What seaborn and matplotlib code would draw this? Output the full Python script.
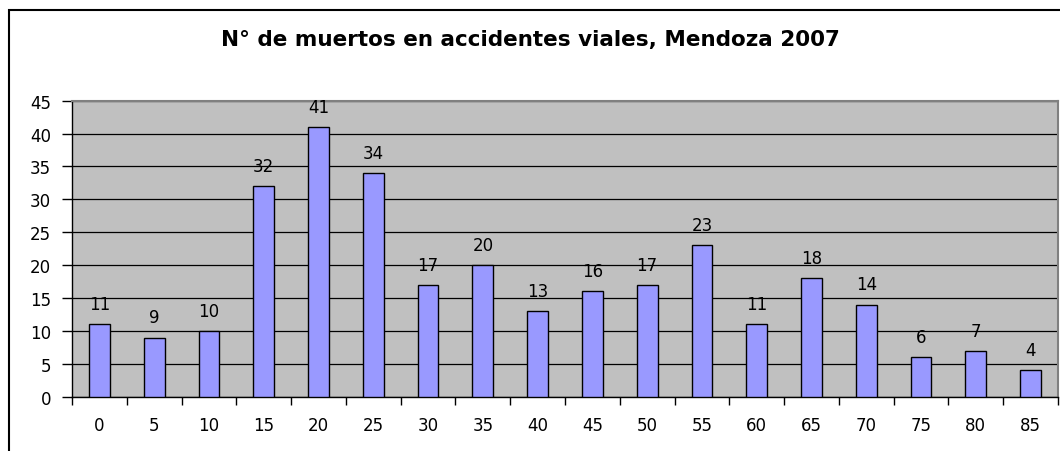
import numpy as np
import pandas as pd
import matplotlib
matplotlib.use('Agg')
import matplotlib.pyplot as plt
import seaborn as sns
from matplotlib.patches import Rectangle

# edad (grupos de 5 años) y n° de muertos
edades = ['0', '5', '10', '15', '20', '25', '30', '35', '40', '45',
          '50', '55', '60', '65', '70', '75', '80', '85']
muertos = [11, 9, 10, 32, 41, 34, 17, 20, 13, 16, 17, 23, 11, 18, 14, 6, 7, 4]
titulo = 'N° de muertos en accidentes viales, Mendoza 2007'

df = pd.DataFrame({'edad': edades, 'muertos': muertos})

sns.set_theme(style='white')
plt.rcParams['font.family'] = ['DejaVu Sans']
plt.rcParams['text.color'] = 'black'
plt.rcParams['xtick.color'] = 'black'
plt.rcParams['ytick.color'] = 'black'

fig = plt.figure(figsize=(10.6, 4.52), dpi=100)
ax = fig.add_axes([72 / 1060, 1 - 397.7 / 452, 986 / 1060, (397.7 - 101.7) / 452])
ax.set_facecolor('#C0C0C0')

sns.barplot(data=df, x='edad', y='muertos', color='#9999FF', edgecolor='black',
            linewidth=1, width=0.38, saturation=1, ax=ax, zorder=3)

# etiquetas de valor
for i, v in enumerate(muertos):
    ax.text(i, v + 2.3, str(v), ha='center', va='baseline', fontsize=12, color='black')

ax.set_xlim(-0.5, len(edades) - 0.5)
ax.set_ylim(0, 45)
ax.set_yticks(np.arange(0, 46, 5))
ax.yaxis.grid(True, color='black', linewidth=0.9, zorder=0)
ax.set_axisbelow(True)
ax.set_xlabel('')
ax.set_ylabel('')

ax.tick_params(axis='y', which='major', direction='out', length=7, width=1,
               color='black', left=True, labelsize=12, pad=8)
ax.tick_params(axis='x', which='major', length=0, labelsize=12, pad=14)
ax.set_xticks(np.arange(-0.5, len(edades), 1), minor=True)
ax.tick_params(axis='x', which='minor', direction='out', length=6, width=1,
               color='black', bottom=True)

for s in ['left', 'bottom']:
    ax.spines[s].set_color('black')
    ax.spines[s].set_linewidth(1)
for s in ['top', 'right']:
    ax.spines[s].set_color('#808080')
    ax.spines[s].set_linewidth(1.5)

fig.text(530 / 1060, 1 - 45.7 / 452, titulo, ha='center', va='baseline',
         fontsize=15.5, fontweight='bold')

# marco exterior del gráfico
fig.patches.append(Rectangle((9 / 1060, -0.1), 1.2, 1 - 10.7 / 452 + 0.1,
                             transform=fig.transFigure, fill=False,
                             edgecolor='black', linewidth=1.5))

fig.savefig('out.png', dpi=100, facecolor='white')
